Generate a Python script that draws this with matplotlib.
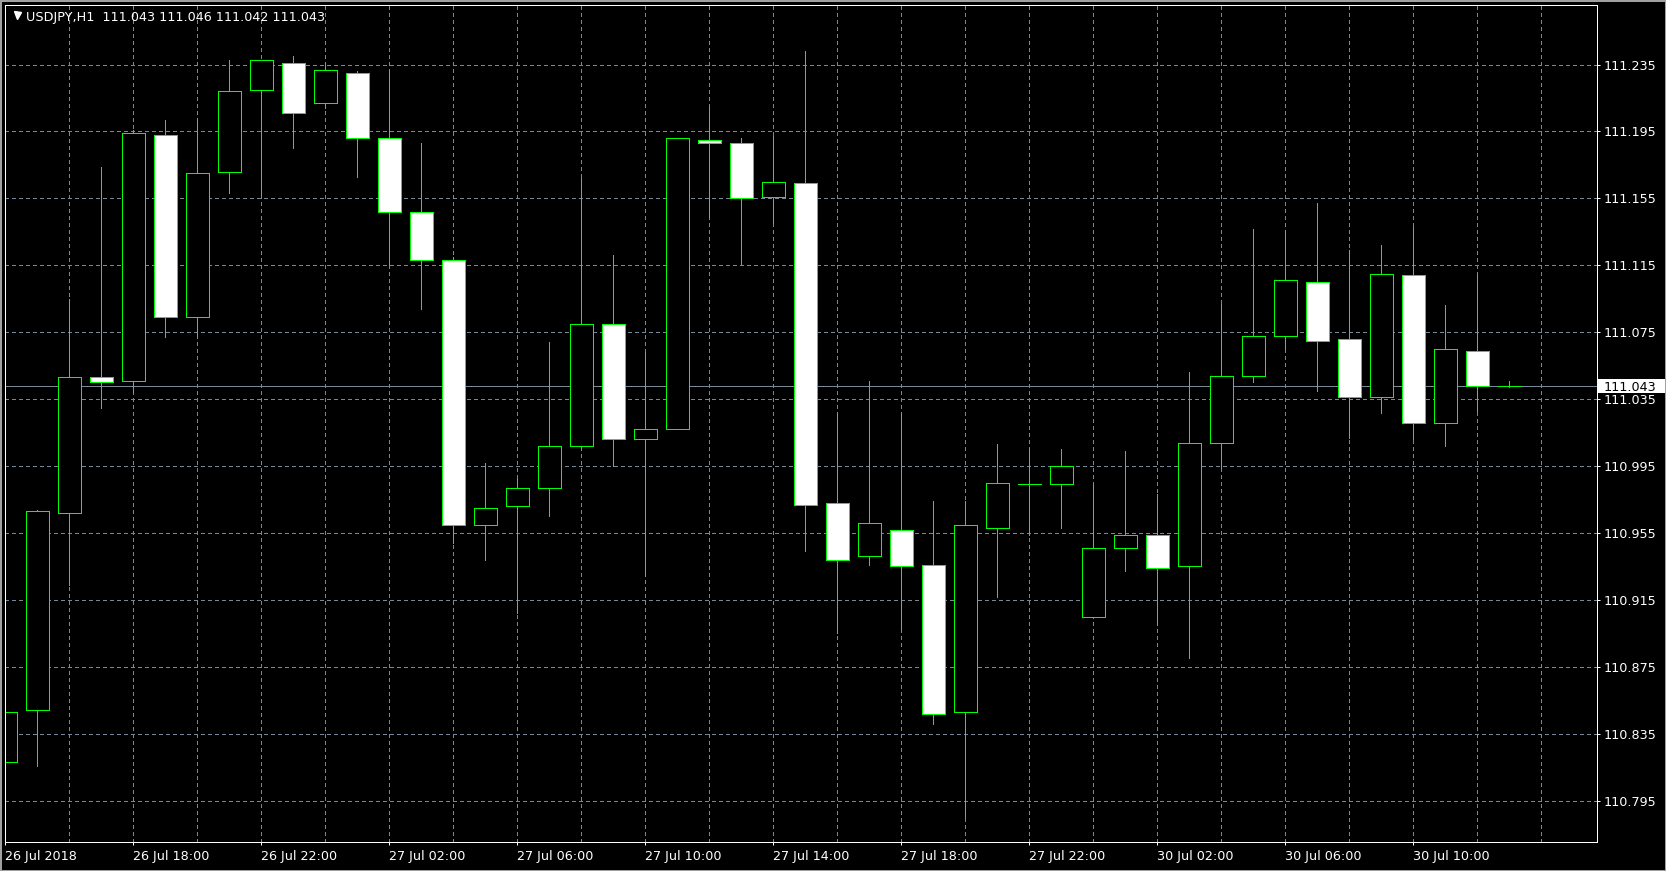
import matplotlib
matplotlib.use("Agg")
import matplotlib.pyplot as plt
import matplotlib.transforms as mtransforms
from matplotlib.patches import Rectangle

# USDJPY H1 candles, 26 Jul 2018 14:00 .. 30 Jul 2018 13:00
symbol = "USDJPY"
period = "H1"

opens = [110.818, 110.849, 110.967, 111.048, 111.046, 111.193, 111.084, 111.171,
         111.220, 111.236, 111.212, 111.230, 111.191, 111.147, 111.118, 110.960,
         110.971, 110.982, 111.007, 111.080, 111.011, 111.017, 111.190, 111.188,
         111.156, 111.164, 110.973, 110.941, 110.957, 110.936, 110.848, 110.958,
         110.984, 110.984, 110.905, 110.946, 110.954, 110.935, 111.009, 111.049,
         111.073, 111.105, 111.071, 111.036, 111.109, 111.021, 111.064, 111.043]
highs = [110.859, 110.969, 111.095, 111.174, 111.196, 111.202, 111.203, 111.238,
         111.238, 111.240, 111.236, 111.231, 111.232, 111.188, 111.120, 110.997,
         110.988, 111.069, 111.167, 111.121, 111.063, 111.191, 111.210, 111.191,
         111.192, 111.243, 111.027, 111.046, 111.027, 110.974, 110.974, 111.008,
         111.006, 111.005, 110.984, 111.004, 110.978, 111.051, 111.092, 111.137,
         111.136, 111.152, 111.124, 111.127, 111.138, 111.091, 111.110, 111.046]
lows = [110.799, 110.816, 110.924, 111.030, 111.039, 111.072, 111.073, 111.158,
        111.157, 111.185, 111.209, 111.168, 111.115, 111.089, 110.949, 110.939,
        110.907, 110.965, 111.006, 110.995, 110.929, 111.017, 111.144, 111.116,
        111.140, 110.944, 110.895, 110.936, 110.897, 110.841, 110.785, 110.917,
        110.954, 110.958, 110.905, 110.932, 110.900, 110.880, 110.994, 111.045,
        111.065, 111.040, 111.012, 111.027, 111.011, 111.007, 111.028, 111.042]
closes = [110.848, 110.968, 111.048, 111.045, 111.194, 111.084, 111.170, 111.219,
          111.238, 111.206, 111.232, 111.191, 111.147, 111.118, 110.960, 110.970,
          110.982, 111.007, 111.080, 111.011, 111.017, 111.191, 111.188, 111.155,
          111.165, 110.972, 110.939, 110.961, 110.935, 110.847, 110.960, 110.985,
          110.984, 110.995, 110.946, 110.954, 110.934, 111.009, 111.049, 111.073,
          111.106, 111.070, 111.036, 111.110, 111.021, 111.065, 111.043, 111.043]

date_labels = ["26 Jul 2018", "26 Jul 18:00", "26 Jul 22:00", "27 Jul 02:00",
               "27 Jul 06:00", "27 Jul 10:00", "27 Jul 14:00", "27 Jul 18:00",
               "27 Jul 22:00", "30 Jul 02:00", "30 Jul 06:00", "30 Jul 10:00"]
price_ticks = [110.795, 110.835, 110.875, 110.915, 110.955, 110.995,
               111.035, 111.075, 111.115, 111.155, 111.195, 111.235]

W, H, DPI = 1666, 871, 100
px = 72.0 / DPI  # one pixel in points

bar_col = "#00ff00"
grid_col = "#778899"
fs = 9.2

plt.rcParams['font.family'] = ['DejaVu Sans']

fig = plt.figure(figsize=(W / DPI, H / DPI), dpi=DPI, facecolor="black")
ax = fig.add_axes([4.5 / W, (H - 842.3) / H, (1597 - 4.5) / W, (842.3 - 4.5) / H])
ax.set_facecolor("black")

n = len(opens)
ax.set_xlim(-0.025, 49.74)
ax.set_ylim(110.7701, 111.2709)

# dotted grid, every 2 bars and every price tick
for i in range(2, n + 1, 2):
    ax.axvline(i, color=grid_col, lw=px, ls=(0, (4, 3)), zorder=0, antialiased=False)
for p in price_ticks:
    ax.axhline(p, color=grid_col, lw=px, ls=(0, (4, 3)), zorder=0, antialiased=False)

# bid line
ax.axhline(closes[-1], color=grid_col, lw=px, zorder=0.5, antialiased=False)

# candles
bw = 0.72
for i in range(n):
    o, h, l, c = opens[i], highs[i], lows[i], closes[i]
    ax.vlines(i, l, h, color=bar_col, lw=px, zorder=2, antialiased=False)
    fill = "white" if c < o else "black"
    ax.add_patch(Rectangle((i - bw / 2, min(o, c)), bw, abs(c - o),
                           facecolor=fill, edgecolor=bar_col, lw=px, zorder=3,
                           antialiased=False))

# axes frame and ticks
for s in ax.spines.values():
    s.set_color("white")
    s.set_linewidth(px)
    s.set_zorder(4)
    s.set_antialiased(False)

ax.yaxis.tick_right()
ax.set_yticks(price_ticks, [f"{p:.3f}" for p in price_ticks])
ax.set_xticks(list(range(0, n, 4)), date_labels, ha="left")
ax.tick_params(axis="y", colors="white", length=3 * px, width=px,
               pad=4 * px, labelsize=fs)
ax.tick_params(axis="x", colors="white", length=3 * px, width=px,
               pad=5 * px, labelsize=fs)

# current price label on the price scale
blend = mtransforms.blended_transform_factory(ax.transAxes, ax.transData)
box_w = 68.0 / (1597 - 4.5)
box_h = 14.4 / 1672.95
ax.add_patch(Rectangle((1.0003, closes[-1] - box_h / 2), box_w, box_h,
                       transform=blend, facecolor="white", edgecolor="white",
                       lw=0, clip_on=False, zorder=10))
ax.text(1.0 + 7.0 / (1597 - 4.5), closes[-1], f"{closes[-1]:.3f}", transform=blend,
        color="black", fontsize=fs, ha="left", va="center_baseline",
        clip_on=False, zorder=11)

# header
ax.plot([12.3 / (1597 - 4.5)], [1 - 10.5 / (842.3 - 4.5)], marker="v", color="white",
        markersize=7 * px, transform=ax.transAxes, clip_on=False, zorder=6)
title = f"{symbol},{period}  {opens[-1]:.3f} {highs[-1]:.3f} {lows[-1]:.3f} {closes[-1]:.3f}"
fig.text(26.5 / W, 1 - 16.2 / H, title, color="white", fontsize=fs,
         ha="left", va="center_baseline")

# window frame
fig.patches.append(Rectangle((0, 0), 1, 1, transform=fig.transFigure, fill=False,
                             edgecolor="#a0a0a0", lw=3 * px))

fig.savefig("out.png", dpi=DPI, facecolor="black")
